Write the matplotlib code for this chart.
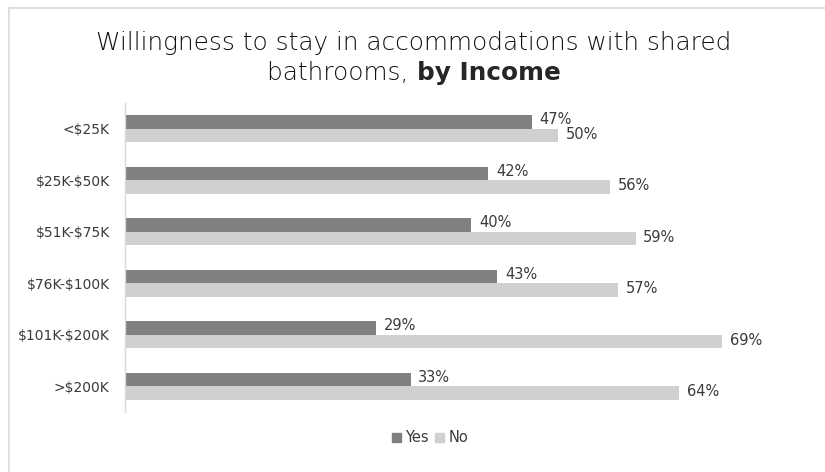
import matplotlib
matplotlib.use("Agg")
import matplotlib.pyplot as plt
from matplotlib.patches import Patch
from matplotlib.lines import Line2D
import numpy as np

plt.rcParams['font.family'] = ['DejaVu Sans']
plt.rcParams['text.parse_math'] = False

categories = ["<$25K", "$25K-$50K", "$51K-$75K", "$76K-$100K", "$101K-$200K", ">$200K"]
yes_values = [47, 42, 40, 43, 29, 33]
no_values = [50, 56, 59, 57, 69, 64]
series_names = ["Yes", "No"]

yes_color = "#808083"
no_color = "#d0d0d2"
text_color = "#3a3a3a"

W, H = 825, 472
fig = plt.figure(figsize=(W / 100, H / 100), dpi=100)

# light frame around the chart area
fig.add_artist(Line2D([9 / W, 9 / W], [0, 1 - 8 / H], color="#d9d9d9", lw=1.2))
fig.add_artist(Line2D([9 / W, 1], [1 - 8 / H, 1 - 8 / H], color="#d9d9d9", lw=1.2))

left, right = 125 / W, 780 / W
top, bottom = 1 - 103 / H, 1 - 412 / H
ax = fig.add_axes([left, bottom, right - left, top - bottom])

n = len(categories)
y = np.arange(n)
h = 0.262
ax.barh(y - h / 2, yes_values, height=h, color=yes_color, label=series_names[0])
ax.barh(y + h / 2, no_values, height=h, color=no_color, label=series_names[1])

for yi, v in zip(y, yes_values):
    ax.text(v + 0.9, yi - h / 2 - 0.04, f"{v}%", va="center", ha="left",
            fontsize=10.5, color=text_color)
for yi, v in zip(y, no_values):
    ax.text(v + 0.9, yi + h / 2 - 0.02, f"{v}%", va="center", ha="left",
            fontsize=10.5, color=text_color)

ax.set_ylim(n - 0.5, -0.5)
ax.set_xlim(0, 75.7)
ax.set_yticks(y)
ax.set_yticklabels(categories, fontsize=10, color=text_color)
ax.tick_params(axis="y", length=0, pad=11)
ax.set_xticks([])
for s in ["top", "right", "bottom"]:
    ax.spines[s].set_visible(False)
ax.spines["left"].set_color("#d9d9d9")
ax.spines["left"].set_linewidth(1.0)

title_color = "#111111"
fig.text(414 / W, 1 - 43 / H, "Willingness to stay in accommodations with shared",
         ha="center", va="center", fontsize=17.8, color=title_color, fontweight="light")
t1 = fig.text(0, 1 - 73 / H, "bathrooms, ", ha="left", va="center", fontsize=17.8,
              color=title_color, fontweight="light")
t2 = fig.text(0, 1 - 73 / H, "by Income", ha="left", va="center", fontsize=17.8,
              color="#262626", fontweight="bold")

# centre the two-part second title line
fig.canvas.draw()
r = fig.canvas.get_renderer()
w1 = t1.get_window_extent(r).width
w2 = t2.get_window_extent(r).width
x0 = 414 - (w1 + w2) / 2
t1.set_x(x0 / W)
t2.set_x((x0 + w1) / W)

handles = [Patch(color=yes_color, label=series_names[0]),
           Patch(color=no_color, label=series_names[1])]
fig.legend(handles=handles, loc="center", bbox_to_anchor=(430 / W, 1 - 438 / H),
           ncol=2, frameon=False, fontsize=10.5, handlelength=0.65, handleheight=0.65,
           handletextpad=0.3, columnspacing=0.4, labelcolor=text_color)

fig.savefig("out.png", dpi=100)
